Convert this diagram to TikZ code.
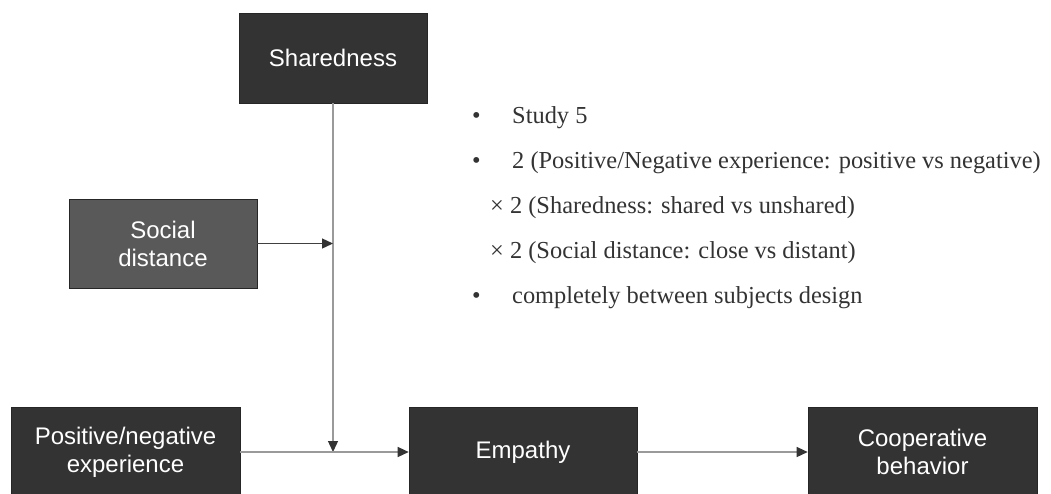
\documentclass[tikz,border=0pt]{standalone}
\usepackage{fontspec}
\setmainfont{Liberation Serif}
\newfontfamily\boxfont{Liberation Sans}
\usetikzlibrary{arrows.meta}
\definecolor{boxgray}{HTML}{333333}
\definecolor{midgray}{HTML}{595959}
\definecolor{linegray}{HTML}{9A9A9A}
\definecolor{tipgray}{HTML}{333333}
\begin{document}
\begin{tikzpicture}[x=1pt,y=-1pt,
    factor/.style={fill=boxgray,draw=black!85,line width=0.6pt,text=white,align=center,
        inner sep=0pt,font=\boxfont\fontsize{24}{28}\selectfont},
    link/.style={draw=linegray,line width=1.3pt,-{Triangle[length=11pt,width=10pt,color=tipgray]}},
    item/.style={anchor=west,inner sep=0pt,font=\fontsize{24.4}{29}\selectfont,text=black!80}]
    \useasboundingbox (0,0) rectangle (1051,493);
    % boxes
    \node[factor,minimum width=188pt,minimum height=90pt] (share) at (333,58) {Sharedness};
    \node[factor,fill=midgray,minimum width=188pt,minimum height=89pt] (social) at (163,243.5) {Social\\distance};
    \node[factor,minimum width=229pt,minimum height=90pt] (posneg) at (125.5,452) {Positive/negative\\experience};
    \node[factor,minimum width=228pt,minimum height=90pt] (empathy) at (523,452) {Empathy};
    \node[factor,minimum width=229pt,minimum height=90pt] (coop) at (922.5,452) {Cooperative\\behavior};
    % arrows
    \coordinate (meet) at (share.south |- posneg.east);
    \draw[link] (share.south) -- (meet);
    \draw[link,draw=black!75] (social.east) -- (social.east -| share.south);
    \draw[link] (posneg.east) -- (empathy.west);
    \draw[link] (empathy.east) -- (coop.west);
    % design notes
    \node[item] (b1) at (472,118) {•};
    \node[item] (t1) at (512,118) {Study 5};
    \node[item] (b2) at (472,163) {•};
    \node[item] (t2) at (512,163) {2 (Positive/Negative experience: positive vs negative)};
    \node[item] (t3) at (490,208) {× 2 (Sharedness: shared vs unshared)};
    \node[item] (t4) at (490,253) {× 2 (Social distance: close vs distant)};
    \node[item] (b5) at (472,298) {•};
    \node[item] (t5) at (512,298) {completely between subjects design};
\end{tikzpicture}
\end{document}
